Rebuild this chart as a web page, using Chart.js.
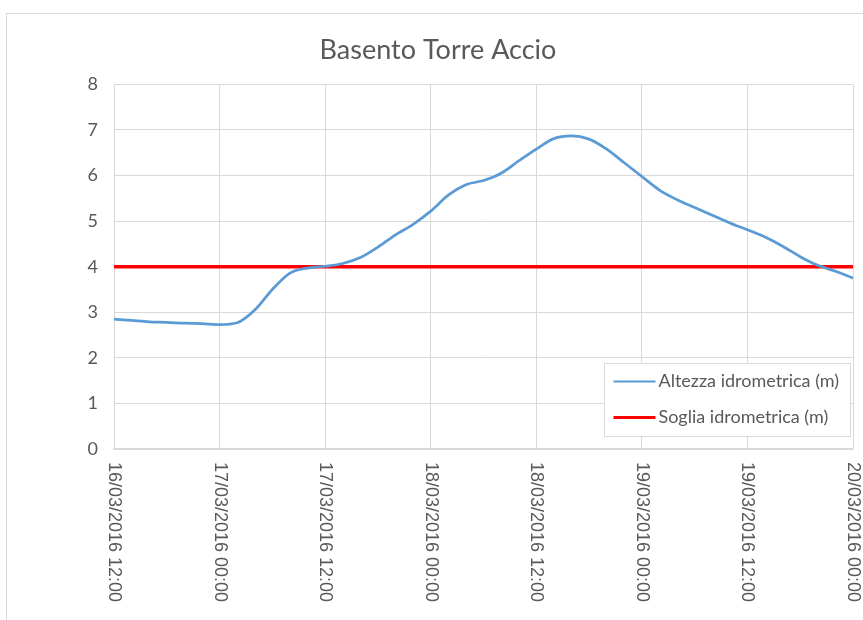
<!DOCTYPE html>
<html>
<head>
<meta charset="utf-8">
<script src="https://cdn.jsdelivr.net/npm/chart.js@4.4.1/dist/chart.umd.min.js"></script>
<style>
  body { margin: 0; background: #fff; }
  #wrap { width: 863px; height: 620px; }
</style>
</head>
<body>
<div id="wrap"><canvas id="chart" width="863" height="620"></canvas></div>
<script>
// ===== Data (hours after 16/03/2016 12:00) =====
const chartTitle = 'Basento Torre Accio';
const seriesNames = ['Altezza idrometrica (m)', 'Soglia idrometrica (m)'];

const hours = [0, 2, 4, 6, 8, 10, 12, 14, 16, 18, 20, 22, 24, 26, 28, 30, 32, 34, 36, 38, 40, 42,
               44, 46, 48, 50, 52, 54, 56, 58, 60, 62, 64, 66, 68, 70, 72, 74, 76, 78, 80, 82, 84];
const levels = [2.85, 2.82, 2.79, 2.78, 2.76, 2.75, 2.73, 2.77, 3.05, 3.50, 3.86, 3.97, 4.01, 4.07,
                4.20, 4.43, 4.70, 4.93, 5.22, 5.57, 5.80, 5.89, 6.05, 6.32, 6.58, 6.81, 6.87, 6.80,
                6.58, 6.28, 5.98, 5.68, 5.47, 5.30, 5.13, 4.96, 4.81, 4.65, 4.45, 4.22, 4.03, 3.90, 3.75];

const thresholdHours = [0, 84];
const thresholdLevels = [4, 4];

const xTickHours = [0, 12, 24, 36, 48, 60, 72, 84];
const xTickLabels = ['16/03/2016 12:00', '17/03/2016 00:00', '17/03/2016 12:00', '18/03/2016 00:00',
                     '18/03/2016 12:00', '19/03/2016 00:00', '19/03/2016 12:00', '20/03/2016 00:00'];

const textColor = '#595959';
const gridColor = '#D9D9D9';

// outer chart frame
const framePlugin = {
    id: 'frame',
    beforeDraw(chart) {
        const ctx = chart.ctx;
        ctx.save();
        ctx.fillStyle = '#fff';
        ctx.fillRect(0, 0, chart.width, chart.height);
        ctx.strokeStyle = '#D9D9D9';
        ctx.lineWidth = 1;
        ctx.strokeRect(6.5, 13.5, chart.width + 20, chart.height + 20);
        ctx.restore();
    }
};

// rotated date labels, reading top to bottom
const xLabelsPlugin = {
    id: 'xLabels',
    afterDraw(chart) {
        const ctx = chart.ctx;
        const xs = chart.scales.x;
        ctx.save();
        ctx.fillStyle = textColor;
        ctx.font = '18px "Liberation Sans", Arial, sans-serif';
        ctx.textAlign = 'left';
        ctx.textBaseline = 'middle';
        xTickHours.forEach((h, i) => {
            const px = xs.getPixelForValue(h);
            ctx.save();
            ctx.translate(px, xs.top + 13);
            ctx.rotate(Math.PI / 2);
            ctx.fillText(xTickLabels[i], 0, 0);
            ctx.restore();
        });
        ctx.restore();
    }
};

// legend box inside the plot area, bottom right
const legendBoxPlugin = {
    id: 'legendBox',
    afterDraw(chart) {
        const ctx = chart.ctx;
        const area = chart.chartArea;
        const boxW = 246, boxH = 73;
        const bx = area.right - 3.5 - boxW;
        const by = area.bottom - 13.5 - boxH;
        ctx.save();
        ctx.fillStyle = '#fff';
        ctx.fillRect(bx, by, boxW, boxH);
        ctx.strokeStyle = gridColor;
        ctx.lineWidth = 1;
        ctx.strokeRect(Math.round(bx) + 0.5, Math.round(by) + 0.5, boxW, boxH);
        ctx.font = '18px Lato, "Open Sans", sans-serif';
        ctx.textBaseline = 'middle';
        ctx.textAlign = 'left';
        chart.data.datasets.forEach((ds, i) => {
            const y = by + 19 + i * 36;
            ctx.strokeStyle = ds.borderColor;
            ctx.lineWidth = i === 0 ? 2 : 3;
            ctx.beginPath();
            ctx.moveTo(bx + 10, y);
            ctx.lineTo(bx + 52, y);
            ctx.stroke();
            ctx.fillStyle = textColor;
            ctx.fillText(ds.label, bx + 55, y);
        });
        ctx.restore();
    }
};

const ctx = document.getElementById('chart').getContext('2d');

new Chart(ctx, {
    type: 'line',
    data: {
        datasets: [
            {
                label: seriesNames[0],
                data: hours.map((h, i) => ({ x: h, y: levels[i] })),
                borderColor: '#5B9BD5',
                borderWidth: 2.75,
                pointRadius: 0,
                cubicInterpolationMode: 'monotone',
                fill: false
            },
            {
                label: seriesNames[1],
                data: thresholdHours.map((h, i) => ({ x: h, y: thresholdLevels[i] })),
                borderColor: '#FF0000',
                borderWidth: 3.5,
                pointRadius: 0,
                fill: false
            }
        ]
    },
    options: {
        responsive: false,
        animation: false,
        layout: {
            // left padding offsets the title centre like the original
            padding: { top: 0, right: 10, bottom: 0, left: 23 }
        },
        scales: {
            x: {
                type: 'linear',
                min: 0,
                max: 84,
                afterBuildTicks: (scale) => {
                    scale.ticks = xTickHours.map(v => ({ value: v }));
                },
                afterFit: (scale) => { scale.height = 171; },
                ticks: { display: false },
                grid: { color: gridColor, lineWidth: 1, drawTicks: false },
                border: { color: gridColor, width: 1.5 }
            },
            y: {
                min: 0,
                max: 8,
                afterFit: (scale) => { scale.width = 91; },
                ticks: {
                    stepSize: 1,
                    color: textColor,
                    padding: 16,
                    font: { family: 'Lato, "Open Sans", sans-serif', size: 18 }
                },
                grid: { color: gridColor, lineWidth: 1, drawTicks: false },
                border: { display: false }
            }
        },
        plugins: {
            legend: { display: false },
            tooltip: { enabled: false },
            title: {
                display: true,
                text: chartTitle,
                color: textColor,
                font: { family: 'Lato, "Open Sans", sans-serif', size: 27, weight: 'normal' },
                padding: { top: 34, bottom: 18 }
            }
        }
    },
    plugins: [framePlugin, xLabelsPlugin, legendBoxPlugin]
});
</script>
</body>
</html>
